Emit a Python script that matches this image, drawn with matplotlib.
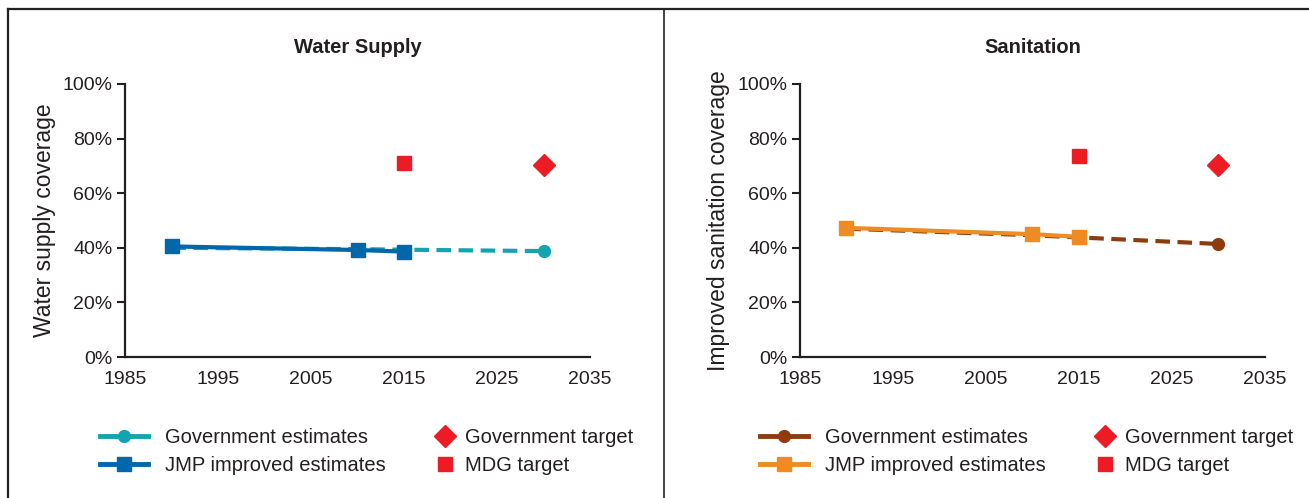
import matplotlib
matplotlib.use("Agg")
import matplotlib.pyplot as plt
from matplotlib.lines import Line2D

plt.rcParams['font.family'] = ['Liberation Sans', 'DejaVu Sans']

# ---- data ----
years_gov = [1990, 2010, 2015, 2030]
years_jmp = [1990, 2010, 2015]
water_gov = [40.0, 39.5, 39.3, 38.8]
water_jmp = [40.5, 39.2, 38.6]
water_mdg_year, water_mdg = 2015, 71.0
water_target_year, water_target = 2030, 70.2

san_gov = [47.0, 44.6, 43.8, 41.4]
san_jmp = [47.3, 45.0, 44.0]
san_mdg_year, san_mdg = 2015, 73.5
san_target_year, san_target = 2030, 70.2

titles = ["Water Supply", "Sanitation"]
ylabels = ["Water supply coverage", "Improved sanitation coverage"]
xticks = [1985, 1995, 2005, 2015, 2025, 2035]
yticks = [0, 20, 40, 60, 80, 100]
legend_labels = ["Government estimates", "JMP improved estimates", "Government target", "MDG target"]

gov_colors = ["#13A3B1", "#8E3C0B"]
jmp_colors = ["#0067AA", "#EE8B22"]
red = "#ED1C24"
dark = "#231F20"

W, H = 1309, 498
fig = plt.figure(figsize=(W / 100, H / 100), dpi=100)

axes_px = [(125, 590), (800, 1265)]
ytop, ybot = 84, 357

panels = [
    (water_gov, water_jmp, water_mdg_year, water_mdg, water_target_year, water_target),
    (san_gov, san_jmp, san_mdg_year, san_mdg, san_target_year, san_target),
]
leg1_left = [100, 760]
leg2_left = [435, 1095]
ylabel_x = [56, 730]

for i, (gov, jmp, my, mv, ty, tv) in enumerate(panels):
    x0, x1 = axes_px[i]
    ax = fig.add_axes([x0 / W, 1 - ybot / H, (x1 - x0) / W, (ybot - ytop) / H])
    lg, = ax.plot(years_gov, gov, color=gov_colors[i], lw=3.0, ls=(0, (3.5, 1.8)),
                  marker='o', markersize=8.5, markevery=[3], zorder=2)
    lj, = ax.plot(years_jmp, jmp, color=jmp_colors[i], lw=3.0, marker='s',
                  markersize=10, zorder=3)
    lt, = ax.plot([ty], [tv], ls='none', marker='D', markersize=11, color=red, zorder=4)
    lm, = ax.plot([my], [mv], ls='none', marker='s', markersize=10, color=red, zorder=4)

    ax.set_xlim(1985, 2035)
    ax.set_ylim(0, 100)
    ax.set_xticks(xticks)
    ax.set_yticks(yticks)
    ax.set_yticklabels([f"{v}%" for v in yticks])
    ax.tick_params(axis='x', length=0, pad=10, labelsize=14, colors=dark)
    ax.tick_params(axis='y', length=6, width=1.5, direction='out', pad=3, labelsize=14, colors=dark)
    for s in ['top', 'right']:
        ax.spines[s].set_visible(False)
    for s in ['left', 'bottom']:
        ax.spines[s].set_linewidth(1.6)
        ax.spines[s].set_color(dark)
    ax.set_title(titles[i], fontsize=14.5, fontweight='bold', color=dark, pad=22)
    ax.set_ylabel(ylabels[i], fontsize=16.5, color=dark)
    ax.yaxis.set_label_coords(-(x0 - ylabel_x[i]) / (x1 - x0), 0.5)

    # legend handles
    hg = Line2D([], [], color=gov_colors[i], lw=3.5, marker='o', markersize=8.5)
    hj = Line2D([], [], color=jmp_colors[i], lw=3.5, marker='s', markersize=10)
    ht = Line2D([], [], ls='none', color=red, marker='D', markersize=11)
    hm = Line2D([], [], ls='none', color=red, marker='s', markersize=10)
    yc = 1 - 451.5 / H
    L1 = fig.legend([hg, hj], legend_labels[:2], loc='center left',
                    bbox_to_anchor=(leg1_left[i] / W, yc), frameon=False, fontsize=14.5,
                    handlelength=2.4, handletextpad=0.85, labelspacing=0.45,
                    borderpad=0, borderaxespad=0, labelcolor=dark)
    L2 = fig.legend([ht, hm], legend_labels[2:], loc='center left',
                    bbox_to_anchor=(leg2_left[i] / W, yc), frameon=False, fontsize=14.5,
                    handlelength=1.0, handletextpad=0.5, labelspacing=0.45,
                    borderpad=0, borderaxespad=0, labelcolor=dark)

# frame lines
fig.add_artist(Line2D([8 / W, 1], [1 - 9.5 / H, 1 - 9.5 / H], color="#222222", lw=1.6,
                      transform=fig.transFigure))
fig.add_artist(Line2D([8 / W, 8 / W], [0, 1 - 9.5 / H], color="#222222", lw=1.6,
                      transform=fig.transFigure))
fig.add_artist(Line2D([664 / W, 664 / W], [0, 1 - 9.5 / H], color="#222222", lw=1.2,
                      transform=fig.transFigure))

fig.savefig("out.png", dpi=100)
